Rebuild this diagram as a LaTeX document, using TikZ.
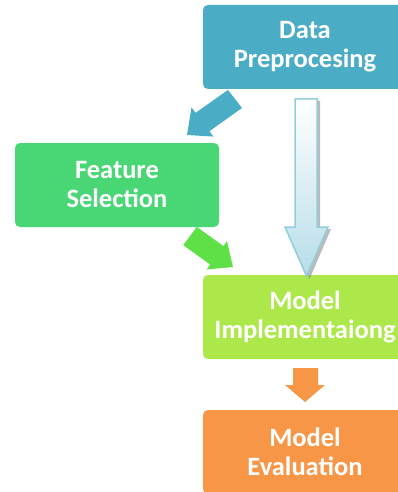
\documentclass[tikz,border=0pt]{standalone}
\usepackage{fontspec}
\setmainfont{Carlito}
\usetikzlibrary{shadows}
\definecolor{cData}{RGB}{75,172,198}
\definecolor{cFeat}{RGB}{73,214,117}
\definecolor{cImpl}{RGB}{173,232,75}
\definecolor{cEval}{RGB}{247,150,70}
\definecolor{cGreenArr}{RGB}{94,224,70}
\definecolor{cHollowLine}{RGB}{146,205,220}
\definecolor{cHollowFill}{RGB}{183,221,232}
\tikzset{
  stepbox/.style={rectangle, rounded corners=5pt, minimum width=204pt, minimum height=84pt,
    inner sep=0pt, text=white, align=center,
    font=\fontsize{26.5}{29}\selectfont\bfseries},
  blockarrow/.style={draw=none}
}
\begin{document}
\begin{tikzpicture}[x=1pt,y=-1pt]
\useasboundingbox (0,0) rectangle (398,492);
\clip (0,0) rectangle (398,492);
\node[stepbox, fill=cData] (data) at (305,47) {Data\\Preprocesing};
\node[stepbox, fill=cFeat] (feat) at (117,185) {Feature\\Selection};
\node[stepbox, fill=cImpl] (impl) at (305,317) {Model\\Implementaiong};
\node[stepbox, fill=cEval] (eval) at (305,452) {Model\\Evaluation};
% blue diagonal arrow
\fill[cData] (228,90) -- (242,108) -- (209.4,131.2) -- (213.5,136.6) -- (187,135)
  -- (191.5,107.4) -- (195.6,112.8) -- cycle;
% green diagonal arrow
\fill[cGreenArr] (196.7,226.8) -- (223.5,246.1) -- (227.0,241.1) -- (233,267)
  -- (206.6,269.5) -- (210.1,264.5) -- (183.3,245.2) -- cycle;
% hollow big arrow: shadow
\fill[black!45, opacity=0.6] (298.5,101) -- (320,101) -- (320,229) -- (331,229) -- (309.5,279)
  -- (288,229) -- (298.5,229) -- cycle;
\draw[cHollowLine, line width=1.5pt, top color=white, bottom color=cHollowFill, line join=miter]
  (295,99) -- (317,99) -- (317,227) -- (328,227) -- (306.5,276) -- (285,227) -- (295,227) -- cycle;
% orange arrow
\fill[cEval] (293,368) -- (318,368) -- (318,385) -- (325,385) -- (305,402) -- (285,385) -- (293,385) -- cycle;
\end{tikzpicture}
\end{document}
